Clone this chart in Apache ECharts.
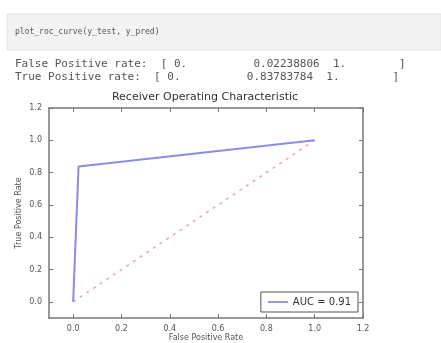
<!DOCTYPE html>
<html>
<head>
<meta charset="utf-8">
<script src="https://cdn.jsdelivr.net/npm/echarts@6/dist/echarts.min.js"></script>
<style>
  html, body { margin: 0; padding: 0; background: #fff; }
  #chart { width: 441px; height: 343px; }
</style>
</head>
<body>
<div id="chart"></div>
<script>
// values printed by the notebook and plotted
var fpr = [0, 0.02238806, 1];
var tpr = [0, 0.83783784, 1];
var chance = [[0, 0], [1, 1]];
var tickValues = [0, 0.2, 0.4, 0.6, 0.8, 1.0, 1.2];
var aucLabel = 'AUC = 0.91';

var codeLine = 'plot_roc_curve(y_test, y_pred)';
var fprLine = 'False Positive rate:  [ 0.          0.02238806  1.        ]';
var tprLine = 'True Positive rate:  [ 0.          0.83783784  1.        ]';

var rocPoints = fpr.map(function (x, i) { return [x, tpr[i]]; });

var el = echarts.init(document.getElementById('chart'));

var fmt = function (v) { return v.toFixed(1); };
var lineColor = '#777';
var textColor = '#555';

function axisBase(pos, labels) {
    return {
        type: 'value',
        position: pos,
        min: -0.1,
        max: 1.2,
        splitLine: {show: false},
        axisLine: {show: true, onZero: false, lineStyle: {color: lineColor, width: 1.5}},
        axisTick: {show: true, inside: true, length: 4, customValues: tickValues, lineStyle: {color: lineColor}},
        axisLabel: {show: labels, customValues: tickValues, formatter: fmt, fontSize: 8, color: textColor, margin: 7,
            fontFamily: 'DejaVu Sans'}
    };
}

var xMain = axisBase('bottom', true);
xMain.name = 'False Positive Rate';
xMain.nameLocation = 'middle';
xMain.nameGap = 16;
xMain.nameMoveOverlap = false;
xMain.nameTextStyle = {fontSize: 8, color: textColor, fontFamily: 'DejaVu Sans'};
var xTop = axisBase('top', false);

var yMain = axisBase('left', true);
yMain.name = 'True Positive Rate';
yMain.nameLocation = 'middle';
yMain.nameGap = 26;
yMain.nameMoveOverlap = false;
yMain.nameTextStyle = {fontSize: 8, color: textColor, fontFamily: 'DejaVu Sans'};
var yRight = axisBase('right', false);

var monoStyle = function (size, color) {
    return {fontSize: size, fontWeight: 'normal', color: color, fontFamily: 'DejaVu Sans Mono'};
};

var option = {
    animation: false,
    backgroundColor: '#fff',
    graphic: [
        {type: 'rect', shape: {x: 7, y: 14, width: 434, height: 36}, style: {fill: '#f3f3f3', stroke: '#e4e4e4'}}
    ],
    title: [
        {text: codeLine, left: 15, top: 28, padding: 0, textStyle: monoStyle(8, '#555')},
        {text: fprLine, left: 15, top: 59, padding: 0, textStyle: monoStyle(11, '#555')},
        {text: tprLine, left: 15, top: 72, padding: 0, textStyle: monoStyle(11, '#555')},
        {text: 'Receiver Operating Characteristic', left: 205, top: 92, padding: 0, textAlign: 'center',
            textStyle: {fontSize: 11, fontWeight: 'normal', color: '#333', fontFamily: 'DejaVu Sans'}}
    ],
    grid: {left: 49, top: 108, right: 78, bottom: 25, outerBoundsMode: 'none'},
    xAxis: [xMain, xTop],
    yAxis: [yMain, yRight],
    legend: {
        right: 83,
        bottom: 31,
        orient: 'vertical',
        backgroundColor: '#fff',
        borderColor: '#555',
        borderWidth: 1,
        padding: [5, 7, 5, 7],
        icon: 'rect',
        itemWidth: 20,
        itemHeight: 2,
        itemGap: 10,
        textStyle: {fontSize: 10, color: '#333', fontFamily: 'DejaVu Sans'},
        data: [aucLabel]
    },
    series: [
        {
            name: aucLabel,
            type: 'line',
            data: rocPoints,
            showSymbol: false,
            symbol: 'none',
            lineStyle: {color: '#8b8be8', width: 2},
            itemStyle: {color: '#9a9ad8'},
            z: 3
        },
        {
            name: 'chance',
            type: 'line',
            data: chance,
            showSymbol: false,
            symbol: 'none',
            lineStyle: {color: '#e8a8a8', width: 1.5, type: [3, 5]},
            z: 2
        }
    ]
};
el.setOption(option);
</script>
</body>
</html>
